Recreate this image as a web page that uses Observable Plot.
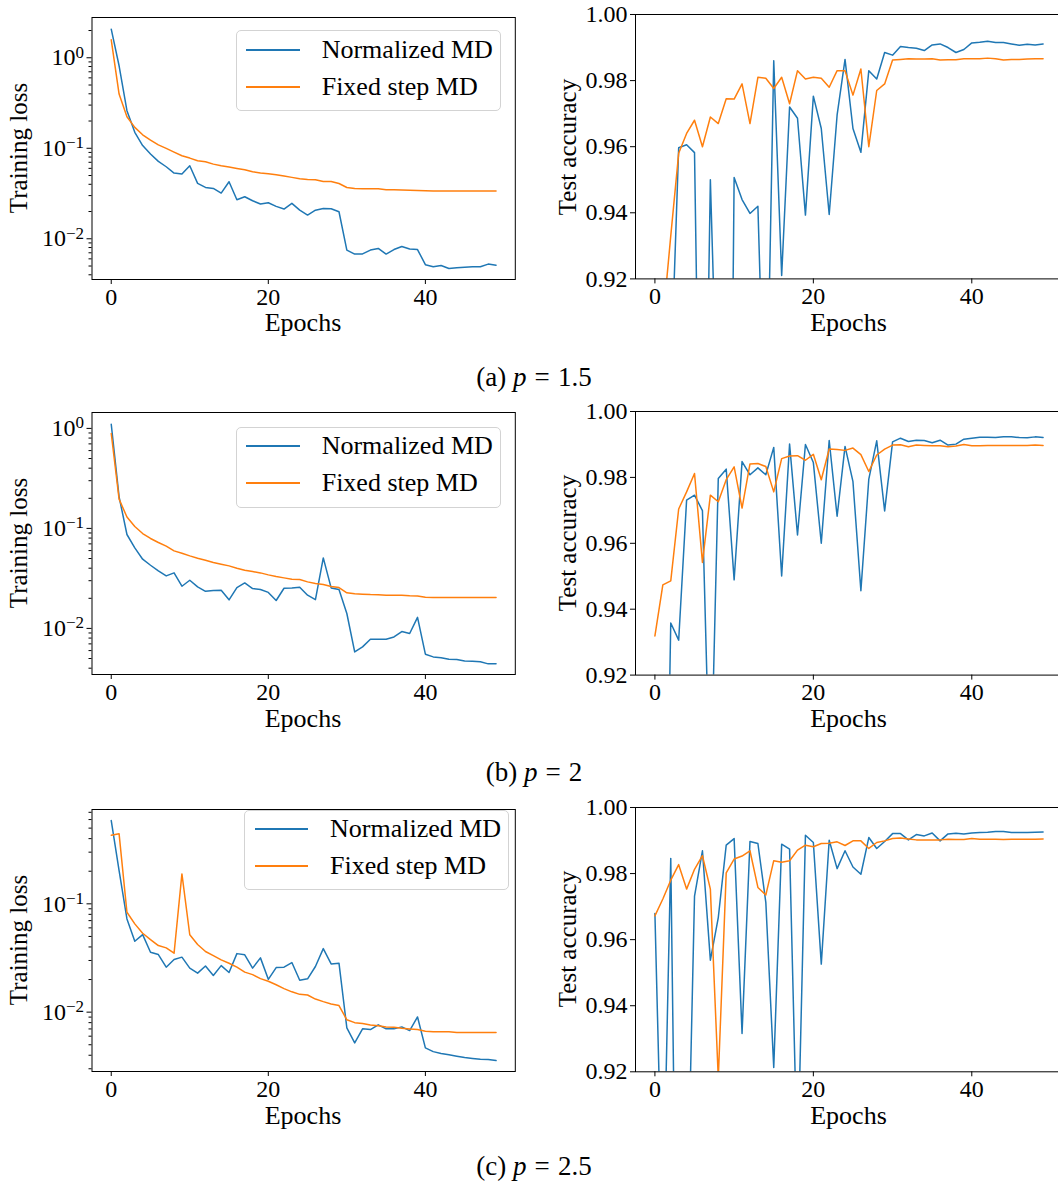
<!DOCTYPE html>
<html><head><meta charset="utf-8">
<script src="https://cdn.jsdelivr.net/npm/d3@7"></script>
<script src="https://cdn.jsdelivr.net/npm/@observablehq/plot@0.6"></script>
<style>
html,body{margin:0;padding:0;background:#fff;overflow:hidden;}
#root{position:relative;width:1058px;height:1184px;overflow:hidden;font-family:"Liberation Serif","Times New Roman",serif;color:#000;}
#root > *{position:absolute;}
.t{font-size:25px;line-height:1;white-space:nowrap;}
.cap{font-size:27px;}
.cap .eq{padding:0 0.3em;}
.lg{border:1px solid #d3d3d3;border-radius:5px;background:rgba(255,255,255,0.8);box-sizing:border-box;}
</style></head><body><div id="root"></div>
<script>
// ---------- data ----------
const epochTicks = [0, 20, 40];
const accTicks = [0.92, 0.94, 0.96, 0.98, 1.00];
const lossMajorTicks = [0.01, 0.1, 1];
const seriesNames = ["Normalized MD", "Fixed step MD"];
const captions = [["(a) ", "p", "=", "1.5"], ["(b) ", "p", "=", "2"], ["(c) ", "p", "=", "2.5"]];

const lossNormalizedA = [2.07, 0.816, 0.26, 0.15, 0.107, 0.0863, 0.0716, 0.0625, 0.0532, 0.0519, 0.0641, 0.0409, 0.0369, 0.036, 0.032, 0.0427, 0.027, 0.0291, 0.0263, 0.0242, 0.025, 0.0228, 0.0213, 0.0246, 0.0207, 0.0183, 0.0207, 0.0216, 0.0215, 0.0199, 0.0075, 0.00677, 0.0068, 0.0075, 0.00782, 0.00677, 0.0076, 0.00822, 0.0077, 0.0076, 0.00517, 0.00491, 0.00506, 0.0047, 0.00478, 0.00485, 0.0049, 0.0049, 0.00525, 0.0051];
const lossFixedA = [1.58, 0.397, 0.223, 0.17, 0.141, 0.123, 0.109, 0.0996, 0.0907, 0.0827, 0.0779, 0.0728, 0.071, 0.0668, 0.0641, 0.062, 0.0599, 0.0579, 0.055, 0.0532, 0.0523, 0.051, 0.0493, 0.0477, 0.046, 0.0452, 0.045, 0.043, 0.043, 0.0408, 0.0369, 0.036, 0.0358, 0.0357, 0.0356, 0.0348, 0.0347, 0.0345, 0.0344, 0.0342, 0.0339, 0.0337, 0.0337, 0.0337, 0.0337, 0.0337, 0.0337, 0.0337, 0.0337, 0.0337];
const accNormalizedA = [0.80, 0.85, 0.889, 0.9597, 0.9606, 0.9582, 0.80, 0.950, 0.868, 0.70, 0.9507, 0.944, 0.9398, 0.942, 0.86, 0.986, 0.921, 0.972, 0.9686, 0.9393, 0.9753, 0.9655, 0.9395, 0.9696, 0.9864, 0.9655, 0.9583, 0.983, 0.9805, 0.9885, 0.9877, 0.9903, 0.990, 0.9898, 0.9891, 0.9908, 0.9911, 0.990, 0.9885, 0.9894, 0.9914, 0.9916, 0.9919, 0.9915, 0.9915, 0.9911, 0.9907, 0.991, 0.9908, 0.9911];
const accFixedA = [0.88, 0.907, 0.933, 0.958, 0.964, 0.968, 0.960, 0.969, 0.967, 0.9745, 0.9744, 0.979, 0.967, 0.981, 0.9807, 0.9776, 0.981, 0.973, 0.983, 0.9805, 0.981, 0.9807, 0.978, 0.983, 0.983, 0.9756, 0.9835, 0.960, 0.977, 0.979, 0.9862, 0.9864, 0.9866, 0.9865, 0.9865, 0.9866, 0.9862, 0.9863, 0.9863, 0.9866, 0.9866, 0.9866, 0.9868, 0.9866, 0.9862, 0.9864, 0.9864, 0.9865, 0.9866, 0.9866];

const lossNormalizedB = [1.10, 0.207, 0.0869, 0.0638, 0.0492, 0.0428, 0.0376, 0.0335, 0.0359, 0.0264, 0.0303, 0.026, 0.0235, 0.0239, 0.0241, 0.0193, 0.0256, 0.0285, 0.025, 0.0245, 0.0229, 0.019, 0.0252, 0.0254, 0.0258, 0.0215, 0.0194, 0.0507, 0.0254, 0.0245, 0.0141, 0.00582, 0.00653, 0.0078, 0.0078, 0.0078, 0.00822, 0.0093, 0.00889, 0.0129, 0.00552, 0.00519, 0.0051, 0.00492, 0.00488, 0.00473, 0.00469, 0.00463, 0.00442, 0.00444];
const lossFixedB = [0.889, 0.196, 0.130, 0.1045, 0.0889, 0.0793, 0.0723, 0.0664, 0.0596, 0.0565, 0.0531, 0.0504, 0.0481, 0.0456, 0.0438, 0.0422, 0.04, 0.0382, 0.037, 0.0359, 0.0343, 0.033, 0.032, 0.031, 0.0308, 0.0292, 0.0281, 0.0275, 0.0262, 0.0256, 0.0227, 0.0222, 0.022, 0.0218, 0.0217, 0.0215, 0.0215, 0.0214, 0.0212, 0.0211, 0.0205, 0.0204, 0.0204, 0.0204, 0.0204, 0.0204, 0.0204, 0.0204, 0.0204, 0.0204];
const accNormalizedB = [0.85, 0.80, 0.9358, 0.9306, 0.9731, 0.9746, 0.9699, 0.88, 0.9797, 0.9825, 0.9489, 0.9848, 0.9808, 0.9829, 0.9808, 0.9891, 0.9501, 0.9901, 0.9625, 0.99, 0.9845, 0.960, 0.9912, 0.9682, 0.9894, 0.9787, 0.9456, 0.9795, 0.9911, 0.9698, 0.9908, 0.9919, 0.9909, 0.9913, 0.9912, 0.9905, 0.9913, 0.9898, 0.9901, 0.9916, 0.9919, 0.9922, 0.9922, 0.9921, 0.9923, 0.9923, 0.9921, 0.992, 0.9923, 0.9921];
const accFixedB = [0.9319, 0.9474, 0.9486, 0.9704, 0.9756, 0.9812, 0.9542, 0.9746, 0.9726, 0.9793, 0.9832, 0.9707, 0.9841, 0.9842, 0.9833, 0.9756, 0.9857, 0.9865, 0.9866, 0.9852, 0.987, 0.9793, 0.9886, 0.9885, 0.9882, 0.9889, 0.9869, 0.9818, 0.9868, 0.9886, 0.9898, 0.9899, 0.9893, 0.9898, 0.9897, 0.9896, 0.9896, 0.9893, 0.9895, 0.99, 0.9896, 0.9896, 0.9897, 0.9897, 0.9897, 0.9897, 0.9897, 0.9897, 0.9898, 0.9897];

const lossNormalizedC = [0.587, 0.203, 0.0726, 0.0451, 0.052, 0.0357, 0.034, 0.026, 0.0306, 0.0322, 0.0255, 0.0229, 0.0267, 0.0218, 0.0269, 0.0232, 0.0347, 0.0338, 0.0255, 0.0317, 0.0201, 0.0258, 0.026, 0.0287, 0.0197, 0.0203, 0.0264, 0.0386, 0.0279, 0.0283, 0.00716, 0.0052, 0.00701, 0.0069, 0.00764, 0.00701, 0.00701, 0.00731, 0.00676, 0.00903, 0.00468, 0.00432, 0.00415, 0.00404, 0.00392, 0.00381, 0.00374, 0.00368, 0.00366, 0.00357];
const lossFixedC = [0.43, 0.443, 0.0837, 0.0653, 0.0535, 0.0468, 0.0412, 0.0392, 0.035, 0.189, 0.0518, 0.0421, 0.0363, 0.0333, 0.0304, 0.0283, 0.026, 0.0234, 0.0222, 0.0204, 0.0193, 0.0179, 0.0165, 0.0154, 0.0146, 0.0144, 0.0132, 0.0125, 0.0119, 0.0115, 0.0085, 0.008, 0.00785, 0.0076, 0.0075, 0.0073, 0.00727, 0.0071, 0.007, 0.0069, 0.00667, 0.0066, 0.0066, 0.0066, 0.0065, 0.0065, 0.0065, 0.0065, 0.0065, 0.00649];
const accNormalizedC = [0.9679, 0.873, 0.9846, 0.80, 0.866, 0.9732, 0.9869, 0.9538, 0.9667, 0.9886, 0.9906, 0.9316, 0.9897, 0.9891, 0.9713, 0.9213, 0.9889, 0.9874, 0.89, 0.9916, 0.9894, 0.9526, 0.9901, 0.9815, 0.9869, 0.982, 0.9798, 0.9909, 0.9876, 0.9897, 0.9921, 0.9921, 0.9902, 0.9918, 0.9914, 0.9923, 0.9899, 0.992, 0.9922, 0.992, 0.9923, 0.9924, 0.9925, 0.9927, 0.9927, 0.9924, 0.9924, 0.9924, 0.9925, 0.9926];
const accFixedC = [0.9672, 0.9723, 0.978, 0.9827, 0.9753, 0.9813, 0.9854, 0.9753, 0.918, 0.9802, 0.9844, 0.9853, 0.9869, 0.9758, 0.9735, 0.9839, 0.9834, 0.9839, 0.9871, 0.9886, 0.9881, 0.9891, 0.9892, 0.9896, 0.9885, 0.9899, 0.9899, 0.9876, 0.9894, 0.9899, 0.9906, 0.9908, 0.9905, 0.9902, 0.9902, 0.9902, 0.9902, 0.9904, 0.9903, 0.9903, 0.9906, 0.9904, 0.9904, 0.9904, 0.9903, 0.9904, 0.9904, 0.9904, 0.9904, 0.9905];

// ---------- layout ----------
const BLUE = "#1f77b4", ORANGE = "#ff7f0e";
const FONT = '"Liberation Serif","Times New Roman",serif';
const rows = [
  {loss: [lossNormalizedA, lossFixedA], acc: [accNormalizedA, accFixedA], lf: [16.7, 278.7], rf: [14.3, 278.7], exps: [-2.450, 0.445],
   lg: {l: 236, t: 30, r: 501, b: 111, lx0: 246, lx1: 300, y0: 50, y1: 87, tx: 321.7}, epochsY: 323, capY: 377},
  {loss: [lossNormalizedB, lossFixedB], acc: [accNormalizedB, accFixedB], lf: [412.3, 674.3], rf: [410.7, 674.3], exps: [-2.461, 0.159],
   lg: {l: 235.7, t: 426.7, r: 501, b: 507.7, lx0: 246, lx1: 300, y0: 446, y1: 483, tx: 321.7}, epochsY: 719, capY: 772},
  {loss: [lossNormalizedC, lossFixedC], acc: [accNormalizedC, accFixedC], lf: [809, 1071], rf: [806.7, 1071], exps: [-2.548, -0.129],
   lg: {l: 244.3, t: 810, r: 509.3, b: 890, lx0: 254.5, lx1: 308, y0: 829, y1: 866, tx: 330}, epochsY: 1116, capY: 1166}
];

const root = document.getElementById("root");
function addText(txt, x, y, tf, extra) {
  const d = document.createElement("div");
  d.className = "t";
  d.textContent = txt;
  d.style.left = x + "px"; d.style.top = y + "px"; d.style.transform = tf;
  if (extra) Object.assign(d.style, extra);
  root.appendChild(d);
  return d;
}
function addCaption(parts, x, y) {
  const d = document.createElement("div");
  d.className = "t cap";
  d.append(parts[0]);
  const i = document.createElement("i"); i.textContent = parts[1]; d.append(i);
  const eq = document.createElement("span"); eq.className = "eq"; eq.textContent = parts[2]; d.append(eq);
  d.append(parts[3]);
  d.style.left = x + "px"; d.style.top = y + "px"; d.style.transform = "translate(-50%,-50%)";
  root.appendChild(d);
}
const plotStyle = {fontFamily: FONT, fontSize: "24px", color: "#000", background: "transparent", overflow: "visible"};
const MT = 10, MB = 45;

rows.forEach((row, ri) => {
  // ---- loss panel ----
  const lo = Math.pow(10, row.exps[0]), hi = Math.pow(10, row.exps[1]);
  const majors = lossMajorTicks.filter(v => v >= lo && v <= hi);
  const minors = [];
  for (let k = -3; k <= 0; k++) for (let m = 2; m <= 9; m++) { const v = m * Math.pow(10, k); if (v >= lo && v <= hi) minors.push(v); }
  const lh = row.lf[1] - row.lf[0];
  const s1 = Plot.plot({
    width: 520, height: MT + lh + MB, marginLeft: 91.5, marginRight: 5.2, marginTop: MT, marginBottom: MB,
    style: plotStyle,
    x: {domain: [-2.45, 51.45]},
    y: {type: "log", domain: [lo, hi]},
    marks: [
      Plot.lineY(row.loss[0], {stroke: BLUE, strokeWidth: 1.5, clip: true}),
      Plot.lineY(row.loss[1], {stroke: ORANGE, strokeWidth: 1.5, clip: true}),
      Plot.frame({stroke: "#000", strokeWidth: 1}),
      Plot.axisX({ticks: epochTicks, tickSize: 5, tickPadding: 3, label: null, tickFormat: d => String(d)}),
      Plot.axisY({ticks: majors, tickSize: 5, tickPadding: 3, label: null, tickFormat: d => "10^" + Math.round(Math.log10(d))}),
      Plot.axisY({ticks: minors, tickSize: 3, tickPadding: 3, label: null, tickFormat: () => ""})
    ]
  });
  s1.style.left = "0px"; s1.style.top = (row.lf[0] - MT) + "px";
  s1.querySelectorAll("text").forEach(t => {
    const s = t.textContent;
    if (s.startsWith("10^")) {
      const e = s.slice(3).replace("-", "\u2212");
      t.textContent = "10";
      const ts = document.createElementNS("http://www.w3.org/2000/svg", "tspan");
      ts.setAttribute("dy", "-0.45em"); ts.setAttribute("font-size", "17px");
      ts.textContent = e;
      t.appendChild(ts);
    }
  });
  root.appendChild(s1);

  // ---- accuracy panel ----
  const rh = row.rf[1] - row.rf[0];
  const s2 = Plot.plot({
    width: 522, height: MT + rh + MB, marginLeft: 95, marginRight: 0, marginTop: MT, marginBottom: MB,
    style: plotStyle,
    x: {domain: [-2.45, 51.45]},
    y: {domain: [0.92, 1.0]},
    marks: [
      Plot.lineY(row.acc[0], {stroke: BLUE, strokeWidth: 1.5, clip: true}),
      Plot.lineY(row.acc[1], {stroke: ORANGE, strokeWidth: 1.5, clip: true}),
      Plot.frame({stroke: "#000", strokeWidth: 1}),
      Plot.axisX({ticks: epochTicks, tickSize: 5, tickPadding: 3, label: null, tickFormat: d => String(d)}),
      Plot.axisY({ticks: accTicks, tickSize: 5, tickPadding: 3, label: null, tickFormat: d3.format(".2f")})
    ]
  });
  s2.style.left = "540px"; s2.style.top = (row.rf[0] - MT) + "px";
  root.appendChild(s2);

  // ---- axis titles ----
  addText("Training loss", 18, (row.lf[0] + row.lf[1]) / 2, "translate(-50%,-50%) rotate(-90deg)");
  addText("Test accuracy", 567, (row.rf[0] + row.rf[1]) / 2, "translate(-50%,-50%) rotate(-90deg)");
  addText("Epochs", 303, row.epochsY, "translate(-50%,-50%)", {fontSize: "26px"});
  addText("Epochs", 848.5, row.epochsY, "translate(-50%,-50%)", {fontSize: "26px"});
  addCaption(captions[ri], 534, row.capY);

  // ---- legend ----
  const g = row.lg;
  const box = document.createElement("div");
  box.className = "lg";
  Object.assign(box.style, {left: g.l + "px", top: g.t + "px", width: (g.r - g.l) + "px", height: (g.b - g.t) + "px"});
  root.appendChild(box);
  [[BLUE, g.y0, seriesNames[0]], [ORANGE, g.y1, seriesNames[1]]].forEach(([c, y, name]) => {
    const ln = document.createElement("div");
    Object.assign(ln.style, {left: g.lx0 + "px", top: (y - 0.75) + "px", width: (g.lx1 - g.lx0) + "px", height: "1.5px", background: c});
    root.appendChild(ln);
    addText(name, g.tx, y, "translateY(-50%)", {fontSize: "26px"});
  });
});
</script></body></html>
